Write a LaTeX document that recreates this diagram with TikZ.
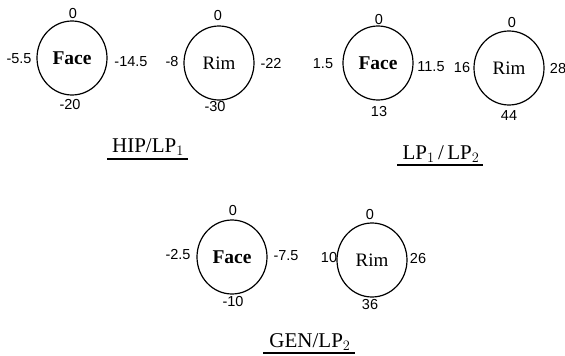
\documentclass[tikz,border=0pt]{standalone}
\usepackage{fontspec}
\setmainfont{Liberation Serif}
\newfontfamily\numfont{Liberation Sans}
\usetikzlibrary{shapes.geometric}
\tikzset{
  ring/.style={draw, ellipse, line width=1.2pt, minimum width=70pt, minimum height=74pt, inner sep=0pt},
  facetxt/.style={font=\fontsize{19.5}{19.5}\selectfont\bfseries},
  rimtxt/.style={font=\fontsize{19}{19}\selectfont},
  num/.style={font=\numfont\fontsize{14.5}{14.5}\selectfont, inner sep=0pt},
  ttl/.style={font=\fontsize{21}{21}\selectfont, inner sep=0pt, anchor=base},
  ul/.style={line width=1.3pt}
}
\begin{document}
\begin{tikzpicture}[x=1pt,y=-1pt]
\useasboundingbox (0,0) rectangle (565,356);
% group 1
\node[ring, facetxt] (f1) at (72,58) {Face};
\node[ring, rimtxt] (r1) at (219,63) {Rim};
\node[num] (f1n) at (73,14) {0};
\node[num] (f1w) at (19,59) {-5.5};
\node[num] (f1e) at (131,62) {-14.5};
\node[num] (f1s) at (70,105) {-20};
\node[num] (r1n) at (218,16) {0};
\node[num] (r1w) at (172,62) {-8};
\node[num] (r1e) at (271,63) {-22};
\node[num] (r1s) at (215,107) {-30};
\node[ttl] (t1) at (148,152) {HIP/LP$_{1}$};
\draw[ul] (107,159) -- (188,159);
% group 2
\node[ring, facetxt] (f2) at (378,63) {Face};
\node[ring, rimtxt] (r2) at (509,68) {Rim};
\node[num] (f2n) at (379,20) {0};
\node[num] (f2w) at (323,64) {1.5};
\node[num] (f2e) at (431,67) {11.5};
\node[num] (f2s) at (379,112) {13};
\node[num] (r2n) at (512,23) {0};
\node[num] (r2w) at (462,68) {16};
\node[num] (r2e) at (558,69) {28};
\node[num] (r2s) at (509,116) {44};
\node[ttl] (t2) at (441,159) {LP$_{1}$\,/\,LP$_{2}$};
\draw[ul] (397,165) -- (483,165);
% group 3
\node[ring, facetxt] (f3) at (232,257) {Face};
\node[ring, rimtxt] (r3) at (372,260) {Rim};
\node[num] (f3n) at (233,211) {0};
\node[num] (f3w) at (178,255) {-2.5};
\node[num] (f3e) at (286,256) {-7.5};
\node[num] (f3s) at (233,302) {-10};
\node[num] (r3n) at (370,215) {0};
\node[num] (r3w) at (329,258) {10};
\node[num] (r3e) at (418,259) {26};
\node[num] (r3s) at (370,305) {36};
\node[ttl] (t3) at (310,347) {GEN/LP$_{2}$};
\draw[ul] (263,353) -- (355,353);
\end{tikzpicture}
\end{document}
